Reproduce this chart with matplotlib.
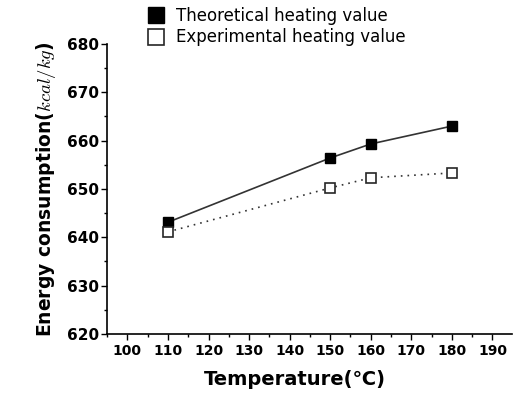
import matplotlib
matplotlib.use("Agg")
import matplotlib.pyplot as plt
from matplotlib.ticker import MultipleLocator

# data
temps = [110, 150, 160, 180]
theoretical = [643.1, 656.4, 659.3, 663.0]
experimental = [641.1, 650.2, 652.3, 653.3]

xticks = [100, 110, 120, 130, 140, 150, 160, 170, 180, 190]
yticks = [620, 630, 640, 650, 660, 670, 680]

plt.rcParams["mathtext.fontset"] = "cm"

fig = plt.figure(figsize=(5.15, 3.96), dpi=100)
ax = fig.add_axes([0.208, 0.157, 0.786, 0.732])

ax.plot(temps, theoretical, color="0.2", lw=1.2, ls="-",
        marker="s", ms=6.5, mfc="black", mec="black",
        label="Theoretical heating value")
ax.plot(temps, experimental, color="0.2", lw=1.2, ls=(0, (1, 3)),
        marker="s", ms=6.5, mfc="white", mec="0.15", mew=1.2,
        label="Experimental heating value")

ax.set_xlim(95, 194.8)
ax.set_ylim(620, 680)
ax.set_xticks(xticks)
ax.set_yticks(yticks)
ax.xaxis.set_minor_locator(MultipleLocator(5))
ax.yaxis.set_minor_locator(MultipleLocator(5))
ax.tick_params(axis="both", which="major", direction="out", length=4, width=1)
ax.tick_params(axis="both", which="minor", direction="out", length=2.5, width=1)
ax.tick_params(axis="x", labelsize=10, pad=3)
ax.tick_params(axis="y", labelsize=11, pad=2)
for lab in ax.get_xticklabels() + ax.get_yticklabels():
    lab.set_fontweight("bold")

for side in ("top", "right"):
    ax.spines[side].set_visible(False)
for side in ("left", "bottom"):
    ax.spines[side].set_linewidth(1.2)

ax.set_xlabel("Temperature(℃)", fontsize=14, fontweight="bold", labelpad=6)
ax.xaxis.set_label_coords(0.465, -0.125)
ax.set_ylabel(r"Energy consumption($kcal/kg$)", fontsize=13.5,
              fontweight="bold", labelpad=6)

fig.legend(loc="upper left", bbox_to_anchor=(0.258, 1.02), frameon=False,
           fontsize=12, handlelength=1.0, handletextpad=0.7,
           labelspacing=0.2, numpoints=1)
# legend shows only the square markers, not the line segments
leg = fig.legends[0]
for h in leg.legend_handles:
    h.set_linestyle("None")
    h.set_markersize(11)

fig.savefig("out.png", dpi=100)
